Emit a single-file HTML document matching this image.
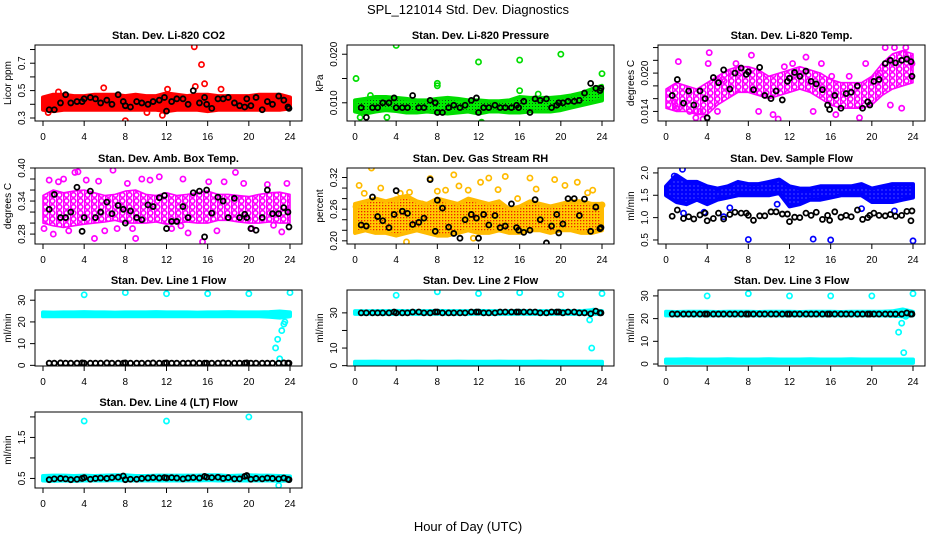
<!DOCTYPE html>
<html><head><meta charset="utf-8">
<style>
html,body{margin:0;padding:0;background:#fff;}
svg{display:block;font-family:"Liberation Sans",Arial,sans-serif;}
</style></head>
<body>
<svg id="chart" width="936" height="540" viewBox="0 0 936 540" xmlns="http://www.w3.org/2000/svg">
<defs>
<pattern id="pRH" width="3" height="3" patternUnits="userSpaceOnUse"><rect width="3" height="3" fill="#ffcc00"/><rect x="1" y="1" width="1.3" height="1.3" fill="#ee2200"/></pattern>
<pattern id="pGR" width="3" height="3" patternUnits="userSpaceOnUse"><rect width="3" height="3" fill="#00ee00"/><rect x="1" y="1" width="1" height="1" fill="#114411"/></pattern>
<pattern id="pMG" width="7" height="6" patternUnits="userSpaceOnUse"><rect width="7" height="6" fill="#ffffff"/><circle cx="3.5" cy="3" r="2.3" fill="none" stroke="#ff00ff" stroke-width="1.6"/><rect x="0" y="0" width="1.2" height="6" fill="#ff00ff"/></pattern>
<pattern id="pBL" width="4" height="4" patternUnits="userSpaceOnUse"><rect width="4" height="4" fill="#0000ff"/><rect x="1.5" y="1.5" width="1" height="1" fill="#8888ff"/></pattern>
</defs>
<text x="468" y="14" font-size="13" text-anchor="middle">SPL_121014  Std. Dev. Diagnostics</text>
<text x="468" y="531" font-size="13" text-anchor="middle">Hour of Day (UTC)</text>
<g id="panels"></g>
</svg>
<script>
const blackHours=[0.6,1.1,1.7,2.2,2.7,3.3,3.8,4.0,4.6,5.1,5.6,6.2,6.7,7.3,7.8,8.0,8.5,9.1,9.6,10.2,10.7,11.3,11.8,12.0,12.5,13.0,13.6,14.1,14.6,15.2,15.7,15.9,16.4,17.0,17.5,18.0,18.6,19.1,19.6,19.8,20.2,20.7,21.3,21.8,22.3,22.9,23.4,23.8,23.9];
const bandHours=[0,1,2,3,4,5,6,7,8,9,10,11,12,13,14,15,16,17,18,19,20,21,22,23,24];

const co2Lo=[0.36,0.35,0.36,0.36,0.36,0.36,0.36,0.36,0.36,0.36,0.36,0.36,0.35,0.36,0.36,0.36,0.35,0.36,0.36,0.36,0.36,0.36,0.36,0.36,0.37];
const co2Hi=[0.45,0.47,0.47,0.46,0.46,0.47,0.47,0.47,0.46,0.47,0.46,0.46,0.48,0.47,0.46,0.47,0.47,0.46,0.46,0.46,0.46,0.47,0.47,0.47,0.45];
const co2OutX=[14.7,15.4,15.7,5.9,8.0,11.6,14.8,12.1,17.3,1.5,0.5,10.1];
const co2OutY=[0.82,0.69,0.55,0.52,0.28,0.32,0.53,0.51,0.51,0.49,0.34,0.34];
const co2Black=[0.36,0.36,0.41,0.47,0.41,0.42,0.42,0.44,0.45,0.44,0.41,0.43,0.40,0.47,0.42,0.39,0.38,0.42,0.41,0.40,0.42,0.43,0.45,0.35,0.42,0.44,0.44,0.40,0.50,0.41,0.45,0.40,0.37,0.44,0.44,0.45,0.41,0.39,0.38,0.44,0.39,0.45,0.36,0.42,0.40,0.46,0.43,0.38,0.37];

const presLo=[0.0082,0.0078,0.0082,0.0085,0.0083,0.0080,0.0080,0.0082,0.0080,0.0078,0.0080,0.0082,0.0078,0.0082,0.0082,0.0080,0.0080,0.0082,0.0082,0.0082,0.0085,0.0090,0.0095,0.0100,0.0105];
const presHi=[0.0105,0.0108,0.0112,0.0112,0.0110,0.0108,0.0105,0.0105,0.0108,0.0110,0.0108,0.0105,0.0105,0.0103,0.0103,0.0105,0.0112,0.0110,0.0110,0.0110,0.0112,0.0115,0.0120,0.0128,0.0135];
const presOutX=[0.1,4.0,8.0,8.0,12.0,12.3,16.0,16.0,20.0,24.0,0.5,3.1,1.5,17.8];
const presOutY=[0.0150,0.0218,0.0140,0.0135,0.0184,0.0060,0.0188,0.0125,0.0200,0.0160,0.0070,0.0070,0.0115,0.0118];
const presBlack=[0.009,0.007,0.009,0.009,0.010,0.010,0.011,0.009,0.009,0.009,0.0115,0.009,0.009,0.0105,0.010,0.008,0.008,0.009,0.0095,0.009,0.0095,0.0105,0.011,0.008,0.009,0.009,0.0095,0.009,0.009,0.009,0.0095,0.009,0.0103,0.008,0.0108,0.0105,0.0108,0.009,0.0095,0.010,0.010,0.0103,0.0103,0.0105,0.012,0.014,0.013,0.0125,0.013];

const tempLo=[0.0145,0.0140,0.0140,0.0135,0.0135,0.0150,0.0160,0.0170,0.0170,0.0165,0.0160,0.0165,0.0170,0.0175,0.0170,0.0160,0.0150,0.0145,0.0145,0.0145,0.0150,0.0165,0.0175,0.0180,0.0185];
const tempHi=[0.0175,0.0185,0.0180,0.0175,0.0185,0.0195,0.0205,0.0210,0.0210,0.0205,0.0195,0.0200,0.0205,0.0210,0.0205,0.0200,0.0190,0.0185,0.0185,0.0185,0.0195,0.0215,0.0230,0.0235,0.0230];
const tempOutX=[0.8,1.2,1.0,2.3,2.9,3.3,3.6,4.1,4.2,5.0,5.5,6.1,6.8,7.2,8.3,9.0,10.4,10.9,11.5,12.3,13.6,14.3,15.1,16.1,16.5,17.8,18.8,19.4,20.8,21.3,21.8,22.2,22.9,23.3,23.9];
const tempOutY=[0.0155,0.0218,0.0145,0.0140,0.0130,0.0140,0.0128,0.0215,0.0232,0.0140,0.0190,0.0200,0.0215,0.0200,0.0228,0.0140,0.0135,0.0128,0.0210,0.0215,0.0225,0.0140,0.0215,0.0195,0.0135,0.0195,0.0130,0.0215,0.0200,0.0240,0.0150,0.0240,0.0145,0.0240,0.0215];
const tempBlack=[0.0165,0.0190,0.0153,0.0172,0.0150,0.0172,0.0160,0.0130,0.0193,0.0185,0.0205,0.0175,0.0200,0.0208,0.0198,0.0202,0.0174,0.0209,0.0165,0.0160,0.0172,0.0158,0.0187,0.0192,0.0201,0.0195,0.0203,0.0187,0.0183,0.0174,0.0150,0.0143,0.0165,0.0145,0.0168,0.0170,0.0180,0.0145,0.0155,0.0150,0.0187,0.0190,0.0215,0.0220,0.0216,0.0220,0.0222,0.0218,0.0195];

const ambLo=[0.300,0.295,0.292,0.295,0.298,0.300,0.302,0.305,0.300,0.300,0.300,0.302,0.298,0.300,0.302,0.300,0.300,0.305,0.305,0.302,0.300,0.300,0.302,0.300,0.300];
const ambHi=[0.350,0.360,0.355,0.358,0.360,0.355,0.350,0.352,0.358,0.360,0.352,0.350,0.355,0.350,0.352,0.355,0.358,0.352,0.352,0.350,0.348,0.352,0.355,0.356,0.352];
const ambOutX=[0.1,0.6,1.0,1.5,2.0,2.5,3.1,3.4,4.2,5.0,5.4,6.0,6.8,7.2,8.2,9.0,9.6,10.4,11.3,12.5,13.6,14.1,15.5,16.1,16.9,17.6,18.7,19.5,20.3,21.8,22.4,23.2,23.7,5.6,8.7,13.4];
const ambOutY=[0.290,0.378,0.280,0.375,0.380,0.286,0.392,0.393,0.378,0.272,0.376,0.286,0.396,0.290,0.372,0.272,0.380,0.378,0.384,0.290,0.380,0.282,0.266,0.375,0.286,0.375,0.392,0.372,0.290,0.370,0.296,0.284,0.372,0.320,0.290,0.295];
const ambBlack=[0.325,0.352,0.31,0.31,0.32,0.365,0.285,0.31,0.358,0.31,0.32,0.338,0.317,0.332,0.325,0.30,0.322,0.31,0.306,0.333,0.33,0.346,0.35,0.29,0.303,0.303,0.33,0.31,0.355,0.358,0.275,0.36,0.318,0.347,0.34,0.31,0.345,0.31,0.316,0.31,0.29,0.287,0.31,0.36,0.317,0.317,0.328,0.32,0.293];

const rhLo=[0.215,0.22,0.215,0.215,0.21,0.215,0.22,0.215,0.21,0.21,0.215,0.22,0.215,0.215,0.22,0.215,0.215,0.22,0.22,0.215,0.22,0.22,0.215,0.215,0.22];
const rhHi=[0.27,0.275,0.28,0.275,0.28,0.285,0.275,0.27,0.28,0.275,0.27,0.28,0.275,0.27,0.275,0.26,0.265,0.275,0.27,0.265,0.27,0.275,0.275,0.27,0.27];
const rhOutX=[0.1,0.4,1.6,2.5,4.0,4.4,5.0,5.3,6.5,7.3,8.0,8.8,9.6,10.1,11.0,12.2,13.0,13.9,14.6,15.8,17.0,17.6,19.4,20.4,21.6,22.6,23.1,24.0,0.9,11.5];
const rhOutY=[0.265,0.305,0.338,0.300,0.278,0.290,0.198,0.292,0.270,0.318,0.294,0.296,0.325,0.304,0.296,0.311,0.319,0.297,0.322,0.280,0.319,0.298,0.316,0.305,0.311,0.291,0.296,0.268,0.290,0.205];
const rhBlack=[0.23,0.228,0.283,0.246,0.238,0.225,0.25,0.295,0.256,0.252,0.231,0.235,0.243,0.316,0.218,0.277,0.262,0.226,0.214,0.205,0.24,0.25,0.243,0.205,0.25,0.23,0.248,0.225,0.228,0.27,0.225,0.22,0.216,0.22,0.278,0.24,0.196,0.228,0.25,0.215,0.232,0.28,0.28,0.248,0.279,0.218,0.264,0.223,0.225];

const flowLo=[1.50,1.35,1.30,1.40,1.30,1.40,1.45,1.50,1.50,1.50,1.50,1.55,1.25,1.30,1.40,1.40,1.45,1.50,1.50,1.50,1.35,1.35,1.35,1.40,1.45];
const flowHi=[1.70,1.95,1.80,1.80,1.70,1.65,1.70,1.80,1.75,1.75,1.80,1.85,1.70,1.65,1.65,1.70,1.70,1.70,1.70,1.75,1.65,1.70,1.75,1.75,1.75];
const flowOutX=[8.0,14.3,16.0,24.0,0.8,1.6,1.7,3.7,5.6,6.2,10.8,19.0,22.2];
const flowOutY=[0.51,0.52,0.50,0.48,1.93,2.08,1.10,1.12,1.02,1.22,1.30,1.20,1.15];
const flowBlack=[1.03,1.17,0.98,1.02,0.97,1.06,1.10,0.93,0.98,1.10,0.97,1.07,1.12,1.10,1.10,1.05,0.94,1.04,1.04,1.13,1.13,1.08,1.08,0.91,1.01,1.00,1.10,1.05,1.12,0.96,1.05,0.94,1.13,1.01,1.05,1.02,1.17,0.96,1.00,1.05,1.10,1.05,1.04,1.07,1.03,1.05,1.14,0.93,1.15];

const l1Lo=[22.6,22.7,22.6,22.6,22.7,22.6,22.6,22.7,22.6,22.6,22.7,22.6,22.6,22.6,22.7,22.6,22.6,22.6,22.7,22.6,22.6,22.6,22.4,22.0,22.6];
const l1Hi=[24.4,24.3,24.4,24.4,24.5,24.4,24.4,24.3,24.4,24.4,24.4,24.5,24.4,24.4,24.4,24.3,24.4,24.4,24.5,24.4,24.4,24.4,24.5,24.8,24.4];
const l1OutX=[4,8,12,16,20,24,22.6,22.8,23.0,23.2,23.4,23.5];
const l1OutY=[32.5,33.5,33.0,33.0,33.0,33.5,8,12,3,16,19,20];
const l1Black=[1.0,1.0,1.1,1.0,1.0,1.0,1.1,1.0,1.0,1.0,1.0,1.1,1.0,1.0,1.0,1.1,1.0,1.0,1.0,1.0,1.1,1.0,1.0,1.1,1.0,1.0,1.0,1.0,1.1,1.0,1.0,1.0,1.0,1.0,1.1,1.0,1.0,1.0,1.0,1.1,1.0,1.0,1.0,1.0,1.0,1.0,1.1,1.0,1.0];

const l2Lo=[29.4,29.4,29.5,29.4,29.4,29.5,29.4,29.4,29.5,29.4,29.4,29.4,29.5,29.4,29.4,29.4,29.5,29.4,29.4,29.4,29.5,29.4,29.4,29.4,29.4];
const l2Hi=[31.0,30.9,31.0,31.0,31.1,31.0,31.0,31.0,31.1,31.0,31.0,31.0,31.1,31.0,31.0,31.0,31.1,31.0,31.0,31.0,31.1,31.0,31.0,31.5,31.0];
const l2Lo2=[0.6,0.6,0.6,0.6,0.6,0.6,0.6,0.6,0.6,0.6,0.6,0.6,0.6,0.6,0.6,0.6,0.6,0.6,0.6,0.6,0.6,0.6,0.6,0.6,0.6];
const l2Hi2=[2.2,2.2,2.3,2.2,2.2,2.2,2.3,2.2,2.2,2.2,2.3,2.2,2.2,2.2,2.3,2.2,2.2,2.2,2.3,2.2,2.2,2.2,2.2,2.2,2.2];
const l2OutX=[4,8,12,16,20,24,22.8,23.0,23.2];
const l2OutY=[40,42,41,41.5,40.5,41,26,10,31];
const l2Black=[30,30,30,30,30,30,30.5,30,30,30,30.5,30.5,30,30,30.5,30.5,30,30,30,30,30,30.5,30.5,30.5,30,30,30,30.5,30.5,30.5,30.5,30.5,30.5,30.5,30.5,30,30,30.5,30.5,30.5,30,30.5,30.5,30,30,29.5,31,30,30];

const l3Lo=[21.4,21.5,21.4,21.4,21.5,21.4,21.4,21.5,21.4,21.4,21.5,21.4,21.4,21.5,21.4,21.4,21.5,21.4,21.4,21.5,21.4,21.4,21.3,21.0,21.4];
const l3Hi=[23.0,22.9,23.0,23.0,23.0,22.9,23.0,23.0,23.0,22.9,23.0,23.0,23.0,22.9,23.0,23.0,23.0,22.9,23.0,23.0,23.0,23.0,23.2,24.0,23.0];
const l3Lo2=[0.5,0.5,0.5,0.5,0.5,0.5,0.5,0.5,0.5,0.5,0.5,0.5,0.5,0.5,0.5,0.5,0.5,0.5,0.5,0.5,0.5,0.5,0.5,0.5,0.5];
const l3Hi2=[2.0,2.0,2.1,2.0,2.0,2.0,2.1,2.0,2.0,2.0,2.1,2.0,2.0,2.0,2.1,2.0,2.0,2.0,2.1,2.0,2.0,2.0,2.0,2.0,2.0];
const l3OutX=[4,8,12,16,20,24,22.6,22.9,23.1,23.3];
const l3OutY=[30,31,30,30,30,31,14,18,5,21];
const l3Black=[22,22,22,22,22,22,22,22,22,22,22,22,22,22,22,22,22,22,22,22,22,22,22,22,22,22,22,22,22,22,22,22,22,22,22,22,22,22,22,22,22,22,22,22,22,22,22.5,22,22];

const l4Lo=[0.45,0.44,0.45,0.44,0.45,0.45,0.45,0.46,0.45,0.45,0.45,0.45,0.45,0.45,0.45,0.45,0.46,0.45,0.45,0.45,0.45,0.45,0.45,0.44,0.45];
const l4Hi=[0.56,0.57,0.57,0.56,0.57,0.56,0.57,0.58,0.58,0.56,0.56,0.57,0.57,0.57,0.57,0.57,0.58,0.58,0.56,0.57,0.58,0.57,0.57,0.56,0.55];
const l4OutX=[4,12,20,22.9];
const l4OutY=[1.90,1.90,2.00,0.33];
const l4Black=[0.47,0.49,0.50,0.49,0.47,0.48,0.50,0.52,0.48,0.50,0.51,0.50,0.52,0.53,0.56,0.47,0.48,0.48,0.50,0.51,0.52,0.51,0.52,0.51,0.52,0.51,0.49,0.51,0.52,0.51,0.55,0.53,0.52,0.53,0.50,0.52,0.49,0.49,0.55,0.57,0.48,0.50,0.49,0.51,0.50,0.49,0.51,0.48,0.47];

const xTicks=[0,4,8,12,16,20,24];

const NS="http://www.w3.org/2000/svg";
const colLeft=[35,347,658], rowTop=[45,168,290,412], boxW=267, boxH=76;
const panels=[
 {name:"co2",title:"Stan. Dev. Li-820 CO2",ylab:"Licor ppm",c:0,r:0,ymin:0.278,ymax:0.833,ticks:[0.3,0.4,0.5,0.6,0.7,0.8],lab:[0.3,0.5,0.7],dec:1,color:"#ff0000",fill:"#ff0000",sw:4,bands:[[co2Lo,co2Hi]],ox:co2OutX,oy:co2OutY,blk:co2Black},
 {name:"pressure",title:"Stan. Dev. Li-820 Pressure",ylab:"kPa",c:1,r:0,ymin:0.00625,ymax:0.0219,ticks:[0.010,0.015,0.020],lab:[0.010,0.020],dec:3,color:"#00dd00",fill:"url(#pGR)",sw:4,bands:[[presLo,presHi]],ox:presOutX,oy:presOutY,blk:presBlack},
 {name:"li820-temp",title:"Stan. Dev. Li-820 Temp.",ylab:"degrees C",c:2,r:0,ymin:0.0125,ymax:0.0244,ticks:[0.014,0.016,0.018,0.020,0.022,0.024],lab:[0.014,0.020],dec:3,color:"#ff00ff",fill:"url(#pMG)",sw:1.6,bands:[[tempLo,tempHi]],ox:tempOutX,oy:tempOutY,blk:tempBlack},
 {name:"amb-box-temp",title:"Stan. Dev. Amb. Box Temp.",ylab:"degrees C",c:0,r:1,ymin:0.262,ymax:0.40,ticks:[0.28,0.30,0.32,0.34,0.36,0.38,0.40],lab:[0.28,0.34,0.40],dec:2,color:"#ff00ff",fill:"url(#pMG)",sw:1.6,bands:[[ambLo,ambHi]],ox:ambOutX,oy:ambOutY,blk:ambBlack},
 {name:"gas-stream-rh",title:"Stan. Dev. Gas Stream RH",ylab:"percent",c:1,r:1,ymin:0.194,ymax:0.338,ticks:[0.20,0.22,0.24,0.26,0.28,0.30,0.32],lab:[0.20,0.26,0.32],dec:2,color:"#ffbb00",fill:"url(#pRH)",sw:4,bands:[[rhLo,rhHi]],ox:rhOutX,oy:rhOutY,blk:rhBlack},
 {name:"sample-flow",title:"Stan. Dev. Sample Flow",ylab:"ml/min",c:2,r:1,ymin:0.41,ymax:2.11,ticks:[0.5,1.0,1.5,2.0],lab:[0.5,1.0,1.5,2.0],dec:1,color:"#0000ff",fill:"url(#pBL)",sw:4,bands:[[flowLo,flowHi]],ox:flowOutX,oy:flowOutY,blk:flowBlack},
 {name:"line1-flow",title:"Stan. Dev. Line 1 Flow",ylab:"ml/min",c:0,r:2,ymin:-0.3,ymax:34.7,ticks:[0,10,20,30],lab:[0,10,20,30],dec:0,color:"#00ffff",fill:"#00ffff",sw:4,bands:[[l1Lo,l1Hi]],ox:l1OutX,oy:l1OutY,blk:l1Black},
 {name:"line2-flow",title:"Stan. Dev. Line 2 Flow",ylab:"ml/min",c:1,r:2,ymin:-0.2,ymax:43,ticks:[0,10,20,30],lab:[0,10,30],dec:0,color:"#00ffff",fill:"#00ffff",sw:4,bands:[[l2Lo,l2Hi],[l2Lo2,l2Hi2]],ox:l2OutX,oy:l2OutY,blk:l2Black},
 {name:"line3-flow",title:"Stan. Dev. Line 3 Flow",ylab:"ml/min",c:2,r:2,ymin:-0.87,ymax:32.6,ticks:[0,10,20,30],lab:[0,10,20,30],dec:0,color:"#00ffff",fill:"#00ffff",sw:4,bands:[[l3Lo,l3Hi],[l3Lo2,l3Hi2]],ox:l3OutX,oy:l3OutY,blk:l3Black},
 {name:"line4-flow",title:"Stan. Dev. Line 4 (LT) Flow",ylab:"ml/min",c:0,r:3,ymin:0.267,ymax:2.12,ticks:[0.5,1.0,1.5,2.0],lab:[0.5,1.5],dec:1,color:"#00ffff",fill:"#00ffff",sw:4,bands:[[l4Lo,l4Hi]],ox:l4OutX,oy:l4OutY,blk:l4Black}
];
function mk(tag,attrs,parent){const e=document.createElementNS(NS,tag);for(const k in attrs)e.setAttribute(k,attrs[k]);parent.appendChild(e);return e;}
const root=document.getElementById("panels");
panels.forEach(p=>{
  const L=colLeft[p.c], T=rowTop[p.r], B=T+boxH;
  const xs=h=>L+8+h*247/24;
  const ys=v=>B-(v-p.ymin)/(p.ymax-p.ymin)*boxH;
  const g=mk("g",{},root);
  
  
  const clip=mk("clipPath",{id:"clip-"+p.name},g);
  mk("rect",{x:L,y:T,width:boxW,height:boxH},clip);
  const t=mk("text",{x:L+boxW/2,y:T-6,"font-size":"11","font-weight":"bold","text-anchor":"middle"},g);
  t.textContent=p.title;
  
  
  const yl=mk("text",{transform:`translate(${L-24},${T+boxH/2}) rotate(-90)`,"font-size":"10","text-anchor":"middle"},g);
  yl.textContent=p.ylab;
  
  
  const plot=mk("g",{"clip-path":`url(#clip-${p.name})`},g);
  p.bands.forEach(b=>{
    const lo=b[0],hi=b[1];
    let d="";
    bandHours.forEach((h,i)=>{d+=(i?"L":"M")+xs(h).toFixed(1)+","+ys(hi[i]).toFixed(1);});
    for(let i=bandHours.length-1;i>=0;i--)d+="L"+xs(bandHours[i]).toFixed(1)+","+ys(lo[i]).toFixed(1);
    d+="Z";
    const pa=mk("path",{d:d,fill:p.fill,stroke:p.color,"stroke-width":p.sw,"stroke-linejoin":"round"},plot);
    
    
  });
  p.ox.forEach((x,i)=>{
    const c=mk("circle",{cx:xs(x),cy:ys(p.oy[i]),r:"2.6",fill:"none",stroke:p.color,"stroke-width":"1.7"},plot);
    
    
  });
  blackHours.forEach((x,i)=>{
    const c=mk("circle",{cx:xs(x),cy:ys(p.blk[i]),r:"2.5",fill:"none",stroke:"#000","stroke-width":"1.8"},plot);
    
    
  });
  const box=mk("rect",{x:L,y:T,width:boxW,height:boxH,fill:"none",stroke:"#000","stroke-width":"1"},g);
  
  
  mk("line",{x1:xs(0),x2:xs(24),y1:B,y2:B,stroke:"#000"},g);
  xTicks.forEach(h=>{
    mk("line",{x1:xs(h),x2:xs(h),y1:B,y2:B+5,stroke:"#000"},g);
    const tx=mk("text",{x:xs(h),y:B+19,"font-size":"10","text-anchor":"middle"},g);
    tx.textContent=String(h);
    
    
  });
  mk("line",{x1:L,x2:L,y1:ys(p.ticks[0]),y2:ys(p.ticks[p.ticks.length-1]),stroke:"#000"},g);
  p.ticks.forEach(v=>{mk("line",{x1:L-5,x2:L,y1:ys(v),y2:ys(v),stroke:"#000"},g);});
  p.lab.forEach(v=>{
    const ty=mk("text",{transform:`translate(${L-10},${ys(v)}) rotate(-90)`,"font-size":"10","text-anchor":"middle"},g);
    ty.textContent=v.toFixed(p.dec);
    
    
  });
});
</script>
</body></html>
